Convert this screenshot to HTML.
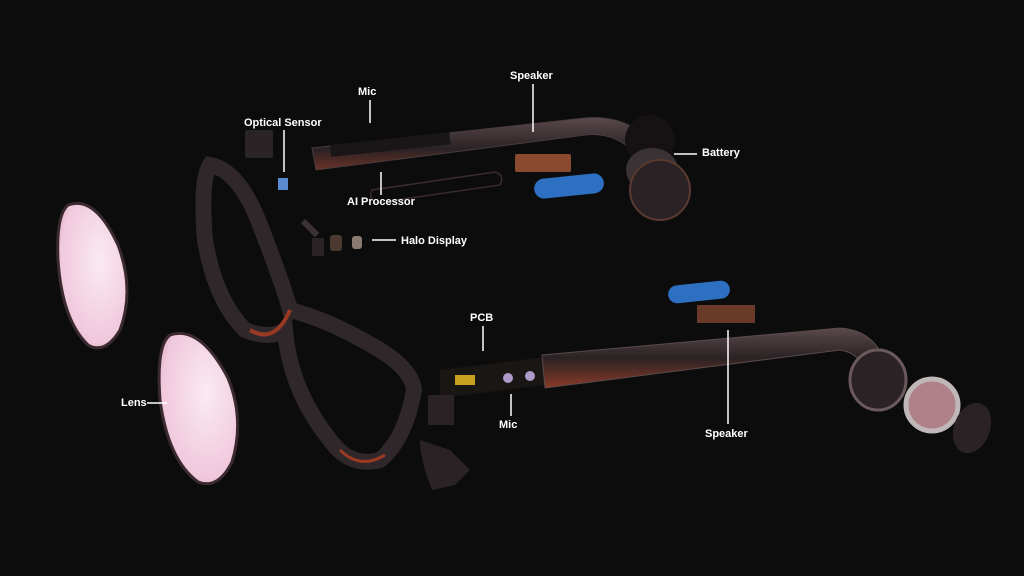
<!DOCTYPE html>
<html><head><meta charset="utf-8"><style>
html,body{margin:0;padding:0;background:#0c0c0c;}
svg{display:block}
text{font-family:"Liberation Sans",sans-serif;font-size:11px;fill:#fff;font-weight:bold;}
</style></head><body>
<svg width="1024" height="576" viewBox="0 0 1024 576" xmlns="http://www.w3.org/2000/svg">
<defs>
<radialGradient id="lens" cx="0.6" cy="0.4" r="0.8">
<stop offset="0" stop-color="#fbeaf2"/><stop offset="0.7" stop-color="#f0c8dc"/><stop offset="1" stop-color="#c98aa8"/>
</radialGradient>
<linearGradient id="arm" x1="0" y1="0" x2="0" y2="1">
<stop offset="0" stop-color="#5a4a4c"/><stop offset="0.5" stop-color="#2a2224"/><stop offset="1" stop-color="#8a3a28"/>
</linearGradient>
</defs>
<rect width="1024" height="576" fill="#0c0c0c"/>

<!-- lenses -->
<path d="M68 205 Q95 195 118 245 Q135 290 120 330 Q105 355 88 345 Q62 320 58 260 Q56 215 68 205Z" fill="url(#lens)" stroke="#3a2a30" stroke-width="3"/>
<path d="M170 335 Q200 325 228 378 Q245 420 232 462 Q218 490 198 482 Q168 460 160 400 Q156 345 170 335Z" fill="url(#lens)" stroke="#3a2a30" stroke-width="3"/>

<!-- frame -->
<path d="M210 165 Q240 170 262 230 Q285 290 290 310 Q330 320 380 350 Q412 370 414 390 Q405 440 380 460 Q350 468 330 440 Q290 390 285 330 Q270 340 245 330 Q215 300 205 240 Q200 180 210 165Z" fill="none" stroke="#2f2729" stroke-width="16"/>
<path d="M250 330 Q275 345 290 310" fill="none" stroke="#9a3a22" stroke-width="4"/>
<path d="M340 450 Q360 470 385 455" fill="none" stroke="#9a3a22" stroke-width="3"/>

<!-- upper arm -->
<path d="M312 148 L585 118 Q625 115 650 140 L670 170 L655 180 L630 148 Q610 132 585 135 L316 170 Z" fill="url(#arm)" stroke="#4a3c3e" stroke-width="1"/>
<rect x="330" y="145" width="120" height="12" fill="#1a1517" transform="rotate(-6 330 145)"/>
<circle cx="650" cy="140" r="25" fill="#161213"/>
<ellipse cx="652" cy="170" rx="26" ry="22" fill="#3a3234"/>
<ellipse cx="660" cy="190" rx="30" ry="30" fill="#2a2224" stroke="#5a3a30" stroke-width="2"/>
<path d="M372 190 L495 172 Q505 175 500 185 L376 203 Q368 198 372 190Z" fill="none" stroke="#3a2c2c" stroke-width="1.5"/>
<rect x="515" y="154" width="56" height="18" fill="#8a4a30" rx="2"/>
<rect x="534" y="176" width="70" height="20" rx="10" fill="#2d6fc0" transform="rotate(-6 569 186)"/>

<!-- small parts -->
<rect x="245" y="130" width="28" height="28" fill="#2a2426" rx="2"/>
<rect x="278" y="178" width="10" height="12" fill="#5a8ad0"/>
<rect x="300" y="225" width="20" height="6" fill="#3a3234" transform="rotate(45 310 228)"/>
<rect x="312" y="238" width="12" height="18" fill="#2a2224"/>
<rect x="330" y="235" width="12" height="16" fill="#4a3a30" rx="3"/>
<rect x="352" y="236" width="10" height="13" fill="#8a7a70" rx="3"/>

<!-- lower arm -->
<path d="M440 370 L545 357 L545 385 L440 398Z" fill="#1a1614"/>
<rect x="455" y="375" width="20" height="10" fill="#c8a020"/>
<circle cx="508" cy="378" r="5" fill="#b09ac8"/><circle cx="530" cy="376" r="5" fill="#b09ac8"/>
<path d="M542 355 L840 328 Q870 330 882 355 L890 365 L870 375 Q858 352 840 350 L545 388Z" fill="url(#arm)" stroke="#5a4a4c" stroke-width="1"/>
<ellipse cx="878" cy="380" rx="28" ry="30" fill="#2a2224" stroke="#6a5a5c" stroke-width="3"/>
<ellipse cx="932" cy="405" rx="26" ry="26" fill="#b08088" stroke="#c0b8b8" stroke-width="5"/>
<ellipse cx="972" cy="428" rx="18" ry="26" fill="#2a2224" transform="rotate(20 972 428)"/>
<rect x="668" y="283" width="62" height="18" rx="9" fill="#2d6fc0" transform="rotate(-6 699 292)"/>
<rect x="697" y="305" width="58" height="18" fill="#6a3a28"/>
<rect x="428" y="395" width="26" height="30" fill="#2a2224"/>
<path d="M420 440 L450 450 L470 470 L455 485 L432 490 Q420 460 420 440Z" fill="#2a2224"/>

<!-- leader lines -->
<g stroke="#fff" stroke-width="1.5">
<line x1="370" y1="100" x2="370" y2="123"/>
<line x1="533" y1="84" x2="533" y2="132"/>
<line x1="284" y1="130" x2="284" y2="172"/>
<line x1="674" y1="154" x2="697" y2="154"/>
<line x1="381" y1="172" x2="381" y2="195"/>
<line x1="372" y1="240" x2="396" y2="240"/>
<line x1="483" y1="326" x2="483" y2="351"/>
<line x1="511" y1="394" x2="511" y2="416"/>
<line x1="147" y1="403" x2="167" y2="403"/>
<line x1="728" y1="330" x2="728" y2="424"/>
</g>
<text x="358" y="95">Mic</text>
<text x="510" y="79">Speaker</text>
<text x="244" y="126">Optical Sensor</text>
<text x="702" y="156">Battery</text>
<text x="347" y="205">AI Processor</text>
<text x="401" y="244">Halo Display</text>
<text x="470" y="321">PCB</text>
<text x="499" y="428">Mic</text>
<text x="121" y="406">Lens</text>
<text x="705" y="437">Speaker</text>
</svg>
</body></html>
